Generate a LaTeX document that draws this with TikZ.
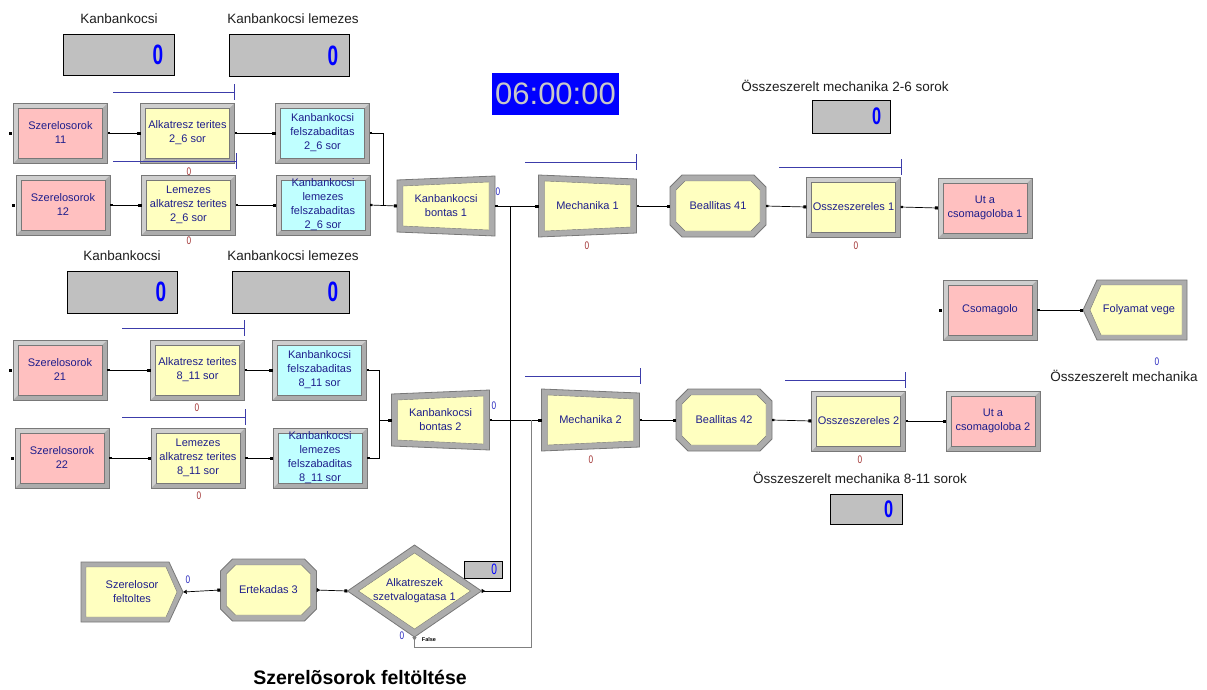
\documentclass[tikz,border=0pt]{standalone}
\usepackage{fontspec}
\setmainfont{Liberation Sans}
\usepackage{graphicx}
\usetikzlibrary{arrows.meta,positioning,backgrounds}
\definecolor{pinkmod}{RGB}{255,192,192}
\definecolor{yellowmod}{RGB}{255,255,192}
\definecolor{cyanmod}{RGB}{192,255,255}
\definecolor{framegray}{RGB}{172,172,172}
\definecolor{framelight}{RGB}{206,206,206}
\definecolor{framedark}{RGB}{120,120,120}
\definecolor{modblue}{RGB}{30,30,140}
\definecolor{dispgray}{RGB}{192,192,192}
\definecolor{queueblue}{RGB}{60,60,170}
\definecolor{cntred}{RGB}{160,50,50}
\definecolor{cntblue}{RGB}{40,40,190}
\definecolor{clockgray}{RGB}{200,200,200}
\definecolor{labelgray}{RGB}{30,30,30}
\newcommand\modfont{\fontsize{11}{14}\selectfont}
\newcommand\dispzero{\scalebox{0.68}[1]{0}}
\newcommand\cntzero{\scalebox{0.75}[1]{0}}
\tikzset{
  mod/.style={font=\modfont, text=modblue, align=center, inner sep=0pt},
  rectmod/.style={mod, minimum width=94pt, minimum height=60pt},
  sepmod/.style={mod, minimum width=98pt, minimum height=60pt},
  batchmod/.style={mod, minimum width=98pt, minimum height=62pt},
  octmod/.style={mod, minimum width=96pt, minimum height=62pt},
  createmod/.style={mod, minimum width=102pt, minimum height=60pt},
  disposemod/.style={mod, minimum width=104pt, minimum height=60pt},
  decidemod/.style={mod, minimum width=134pt, minimum height=92pt},
  outer/.style={fill=framegray, draw=framedark, line width=.8pt},
  inner/.style={fill=#1, draw=framedark, line width=.4pt},
  rectframe/.pic={
    \begin{scope}[x=1pt, y=1pt]
      \fill[framegray] (-47,-30) rectangle (47,30);
      \fill[framelight] (-47,30) -- (47,30) -- (42,25) -- (-42,25) -- (-42,-25) -- (-47,-30) -- cycle;
      \draw[framedark, line width=.8pt] (-47,-30) rectangle (47,30);
      \path[inner=#1] (-42,-25) rectangle (42,25);
    \end{scope}},
  sepframe/.pic={
    \begin{scope}[x=1pt, y=1pt]
      \path[outer] (-49,26) -- (49,30) -- (49,-30) -- (-49,-26) -- cycle;
      \path[inner=yellowmod] (-43,20) -- (43,24) -- (43,-24) -- (-43,-20) -- cycle;
    \end{scope}},
  batchframe/.pic={
    \begin{scope}[x=1pt, y=1pt]
      \path[outer] (-49,31) -- (49,27) -- (49,-27) -- (-49,-31) -- cycle;
      \path[inner=yellowmod] (-43,25) -- (43,21) -- (43,-21) -- (-43,-25) -- cycle;
    \end{scope}},
  octframe/.pic={
    \begin{scope}[x=1pt, y=1pt]
      \path[outer] (-36,31) -- (36,31) -- (48,19) -- (48,-19) -- (36,-31) -- (-36,-31) -- (-48,-19) -- (-48,19) -- cycle;
      \path[inner=yellowmod] (-33,25) -- (33,25) -- (42,16) -- (42,-16) -- (33,-25) -- (-33,-25) -- (-42,-16) -- (-42,16) -- cycle;
    \end{scope}},
  createframe/.pic={
    \begin{scope}[x=1pt, y=1pt]
      \path[outer] (-51,30) -- (37,30) -- (51,0) -- (37,-30) -- (-51,-30) -- cycle;
      \path[inner=yellowmod] (-46,25) -- (34,25) -- (45,0) -- (34,-25) -- (-46,-25) -- cycle;
    \end{scope}},
  disposeframe/.pic={
    \begin{scope}[x=1pt, y=1pt]
      \path[outer] (-38,30) -- (52,30) -- (52,-30) -- (-38,-30) -- (-52,0) -- cycle;
      \path[inner=yellowmod] (-34,25) -- (47,25) -- (47,-25) -- (-34,-25) -- (-45,0) -- cycle;
    \end{scope}},
  decideframe/.pic={
    \begin{scope}[x=1pt, y=1pt]
      \path[outer] (0,46) -- (67,0) -- (0,-46) -- (-67,0) -- cycle;
      \path[inner=yellowmod] (0,38) -- (56,0) -- (0,-38) -- (-56,0) -- cycle;
    \end{scope}},
  dlabel/.style={font=\fontsize{13.5}{14}\selectfont, text=labelgray, inner sep=0pt},
  disp/.style={fill=dispgray, draw=black, line width=.6pt, inner sep=0pt},
  dispnum/.style={text=blue, font=\fontsize{28}{28}\selectfont\bfseries, inner sep=0pt},
  cnt/.style={font=\fontsize{11}{11}\selectfont, inner sep=0pt},
  queue/.style={draw=queueblue, line width=1pt},
  wire/.style={draw=black, line width=.7pt},
  conn/.style={wire, {Square[length=2.2pt,width=2.2pt]}-{Square[length=3pt,width=3pt]}},
  entry/.style={fill=black}
}
\begin{document}
\begin{tikzpicture}[x=1pt, y=-1pt]
\path[use as bounding box] (0,0) rectangle (1207,689);

\node[dlabel] (lkb1) at (119,19) {Kanbankocsi};
\node[disp, minimum width=111pt, minimum height=41pt] (kb1) at (118.5,54.5) {};
\node[dispnum, left=11pt of kb1.east] (kb1v) {\dispzero};
\node[dlabel] (lkl1) at (293,19) {Kanbankocsi lemezes};
\node[disp, minimum width=120pt, minimum height=42pt] (kl1) at (289,55.5) {};
\node[dispnum, left=11pt of kl1.east] (kl1v) {\dispzero};
\node[dlabel] (lkb2) at (122,256) {Kanbankocsi};
\node[disp, minimum width=110pt, minimum height=42pt] (kb2) at (122,292) {};
\node[dispnum, left=11pt of kb2.east] (kb2v) {\dispzero};
\node[dlabel] (lkl2) at (293,256) {Kanbankocsi lemezes};
\node[disp, minimum width=117pt, minimum height=42pt] (kl2) at (290.5,292) {};
\node[dispnum, left=11pt of kl2.east] (kl2v) {\dispzero};
\node[dlabel] (lom1) at (845,86) {Összeszerelt mechanika 2-6 sorok};
\node[disp, minimum width=78pt, minimum height=33pt] (om1) at (851,116.5) {};
\node[dispnum, font=\fontsize{24}{24}\selectfont\bfseries, left=9pt of om1.east] (om1v) {\dispzero};
\node[dlabel] (lom2) at (860,478) {Összeszerelt mechanika 8-11 sorok};
\node[disp, minimum width=72pt, minimum height=30pt] (om2) at (866,509) {};
\node[dispnum, font=\fontsize{24}{24}\selectfont\bfseries, left=9pt of om2.east] (om2v) {\dispzero};
\node[dlabel] (lom) at (1124,376) {Összeszerelt mechanika};
\node[disp, minimum width=38pt, minimum height=17pt] (dd) at (483,569.5) {};
\node[dispnum, font=\fontsize{15}{15}\selectfont, left=5pt of dd.east] (ddv) {\dispzero};

\node[fill=blue, minimum width=127pt, minimum height=42pt, inner sep=0pt, text=clockgray,
  font=\fontsize{31}{31}\selectfont] (clock) at (555.5,94) {06:00:00};

\node[rectmod] (s11) at (60.5,133) {Szerelosorok\\11};
\node[rectmod] (a26) at (187.5,133) {Alkatresz terites\\2\_6 sor};
\node[rectmod] (f26) at (322.5,133) {Kanbankocsi\\felszabaditas\\2\_6 sor};
\node[rectmod] (s12) at (63,205) {Szerelosorok\\12};
\node[rectmod] (l26) at (188.5,205) {Lemezes\\alkatresz terites\\2\_6 sor};
\node[rectmod] (g26) at (323,205) {Kanbankocsi\\lemezes\\felszabaditas\\2\_6 sor};
\node[sepmod] (b1) at (446,206) {Kanbankocsi\\bontas 1};
\node[batchmod] (m1) at (587.5,206) {Mechanika 1};
\node[octmod] (be41) at (718,206) {Beallitas 41};
\node[rectmod] (o1) at (853.5,207) {Osszeszereles 1};
\node[rectmod] (u1) at (985,208) {Ut a\\csomagoloba 1};

\node[rectmod] (s21) at (60,370) {Szerelosorok\\21};
\node[rectmod] (a811) at (197.5,370) {Alkatresz terites\\8\_11 sor};
\node[rectmod] (f811) at (319.5,370) {Kanbankocsi\\felszabaditas\\8\_11 sor};
\node[rectmod] (s22) at (62,458) {Szerelosorok\\22};
\node[rectmod] (l811) at (198,458) {Lemezes\\alkatresz terites\\8\_11 sor};
\node[rectmod] (g811) at (320,458) {Kanbankocsi\\lemezes\\felszabaditas\\8\_11 sor};
\node[sepmod] (b2) at (440.5,420) {Kanbankocsi\\bontas 2};
\node[batchmod] (m2) at (590.5,420) {Mechanika 2};
\node[octmod] (be42) at (724,420) {Beallitas 42};
\node[rectmod] (o2) at (858.5,421) {Osszeszereles 2};
\node[rectmod] (u2) at (993,421) {Ut a\\csomagoloba 2};

\node[rectmod] (cs) at (990,310) {Csomagolo};
\node[disposemod] (fv) at (1135,310) {\hspace{8pt}Folyamat vege};

\node[createmod] (sf) at (132,592) {Szerelosor\\feltoltes\hspace{8pt}};
\node[octmod] (e3) at (268.5,590) {Ertekadas 3};
\node[decidemod] (d1) at (414.5,591) {Alkatreszek\\szetvalogatasa 1};

\begin{pgfonlayer}{background}
\foreach \n/\c in {s11/pinkmod, s12/pinkmod, s21/pinkmod, s22/pinkmod, cs/pinkmod, u1/pinkmod, u2/pinkmod,
    a26/yellowmod, l26/yellowmod, a811/yellowmod, l811/yellowmod, o1/yellowmod, o2/yellowmod,
    f26/cyanmod, g26/cyanmod, f811/cyanmod, g811/cyanmod}
  \pic at (\n) {rectframe=\c};
\pic at (b1) {sepframe};
\pic at (b2) {sepframe};
\pic at (m1) {batchframe};
\pic at (m2) {batchframe};
\pic at (be41) {octframe};
\pic at (be42) {octframe};
\pic at (e3) {octframe};
\pic at (sf) {createframe};
\pic at (fv) {disposeframe};
\pic at (d1) {decideframe};
\end{pgfonlayer}

\node[cnt, text=cntred] (c1) at (189,172) {\cntzero};
\node[cnt, text=cntred] (c2) at (189,241) {\cntzero};
\node[cnt, text=cntred] (c3) at (587,246) {\cntzero};
\node[cnt, text=cntred] (c4) at (856,246) {\cntzero};
\node[cnt, text=cntred] (c5) at (197,408) {\cntzero};
\node[cnt, text=cntred] (c6) at (199,496) {\cntzero};
\node[cnt, text=cntred] (c7) at (591,460) {\cntzero};
\node[cnt, text=cntred] (c8) at (860,460) {\cntzero};
\node[cnt, text=cntblue] (c9) at (498,192) {\cntzero};
\node[cnt, text=cntblue] (c10) at (494,406) {\cntzero};
\node[cnt, text=cntblue] (c11) at (188,580) {\cntzero};
\node[cnt, text=cntblue] (c12) at (402,636) {\cntzero};
\node[cnt, text=cntblue] (c13) at (1157,362) {\cntzero};
\node[font=\fontsize{5.5}{6}\selectfont\bfseries, inner sep=0pt] (fls) at (429,640) {False};

\node[font=\fontsize{19.5}{20}\selectfont\bfseries, inner sep=0pt] (title) at (360,677) {Szerelõsorok feltöltése};

\draw[queue] (113,92) -- (234,92) (234,84) -- (234,100);
\draw[queue] (113,161) -- (236,161) (236,153) -- (236,169);
\draw[queue] (122,328) -- (244,328) (244,320) -- (244,336);
\draw[queue] (122,417) -- (245,417) (245,409) -- (245,425);
\draw[queue] (525,162) -- (636,162) (636,154) -- (636,170);
\draw[queue] (779,167) -- (901,167) (901,159) -- (901,175);
\draw[queue] (525,376) -- (640,376) (640,368) -- (640,384);
\draw[queue] (785,380) -- (905,380) (905,372) -- (905,388);

\coordinate (j1) at (383,206);
\coordinate (j2) at (379,420);
\coordinate (jt) at (510,206);
\coordinate (jf) at (531,420);

\draw[conn] (s11.east) -- (a26.west);
\draw[conn] (a26.east) -- (f26.west);
\draw[wire, {Square[length=2.2pt,width=2.2pt]}-] (f26.east) -| (j1);
\draw[conn] (s12.east) -- (l26.west);
\draw[conn] (l26.east) -- (g26.west);
\draw[conn] (g26.east) -- (b1.west);
\draw[conn] (b1.east) -- (m1.west);
\draw[conn] (m1.east) -- (be41.west);
\draw[conn] (be41.east) -- (o1.west);
\draw[conn] (o1.east) -- (u1.west);

\draw[conn] (s21.east) -- (a811.west);
\draw[conn] (a811.east) -- (f811.west);
\draw[wire, {Square[length=2.2pt,width=2.2pt]}-] (f811.east) -| (j2);
\draw[conn] (s22.east) -- (l811.west);
\draw[conn] (l811.east) -- (g811.west);
\draw[conn] (g811.east) -| (j2) -- (b2.west);
\draw[conn] (b2.east) -- (m2.west);
\draw[conn] (m2.east) -- (be42.west);
\draw[conn] (be42.east) -- (o2.west);
\draw[conn] (o2.east) -- (u2.west);

\draw[conn] (cs.east) -- (fv.west);
\draw[wire, {Square[length=3pt,width=3pt]}-{Triangle[length=3.5pt,width=4pt]}] (e3.west) -- (sf.east);
\draw[wire, {Triangle[reversed,length=3.5pt,width=4pt]}-{Square[length=3pt,width=3pt]}] (e3.east) -- (d1.west);
\draw[wire, {Triangle[reversed,length=3.5pt,width=4pt]}-] (d1.east) -| (jt);
\draw[wire, draw=gray, {Triangle[reversed,length=3.5pt,width=4pt]}-] (d1.south) -- ++(0,10) -| (jf);

\fill[entry] ([xshift=-4pt,yshift=1.5pt]s11.west) rectangle ++(3,3);
\fill[entry] ([xshift=-4pt,yshift=1.5pt]s12.west) rectangle ++(3,3);
\fill[entry] ([xshift=-4pt,yshift=1.5pt]s21.west) rectangle ++(3,3);
\fill[entry] ([xshift=-4pt,yshift=1.5pt]s22.west) rectangle ++(3,3);
\fill[entry] ([xshift=-4pt,yshift=1.5pt]cs.west) rectangle ++(3,3);
\end{tikzpicture}
\end{document}
